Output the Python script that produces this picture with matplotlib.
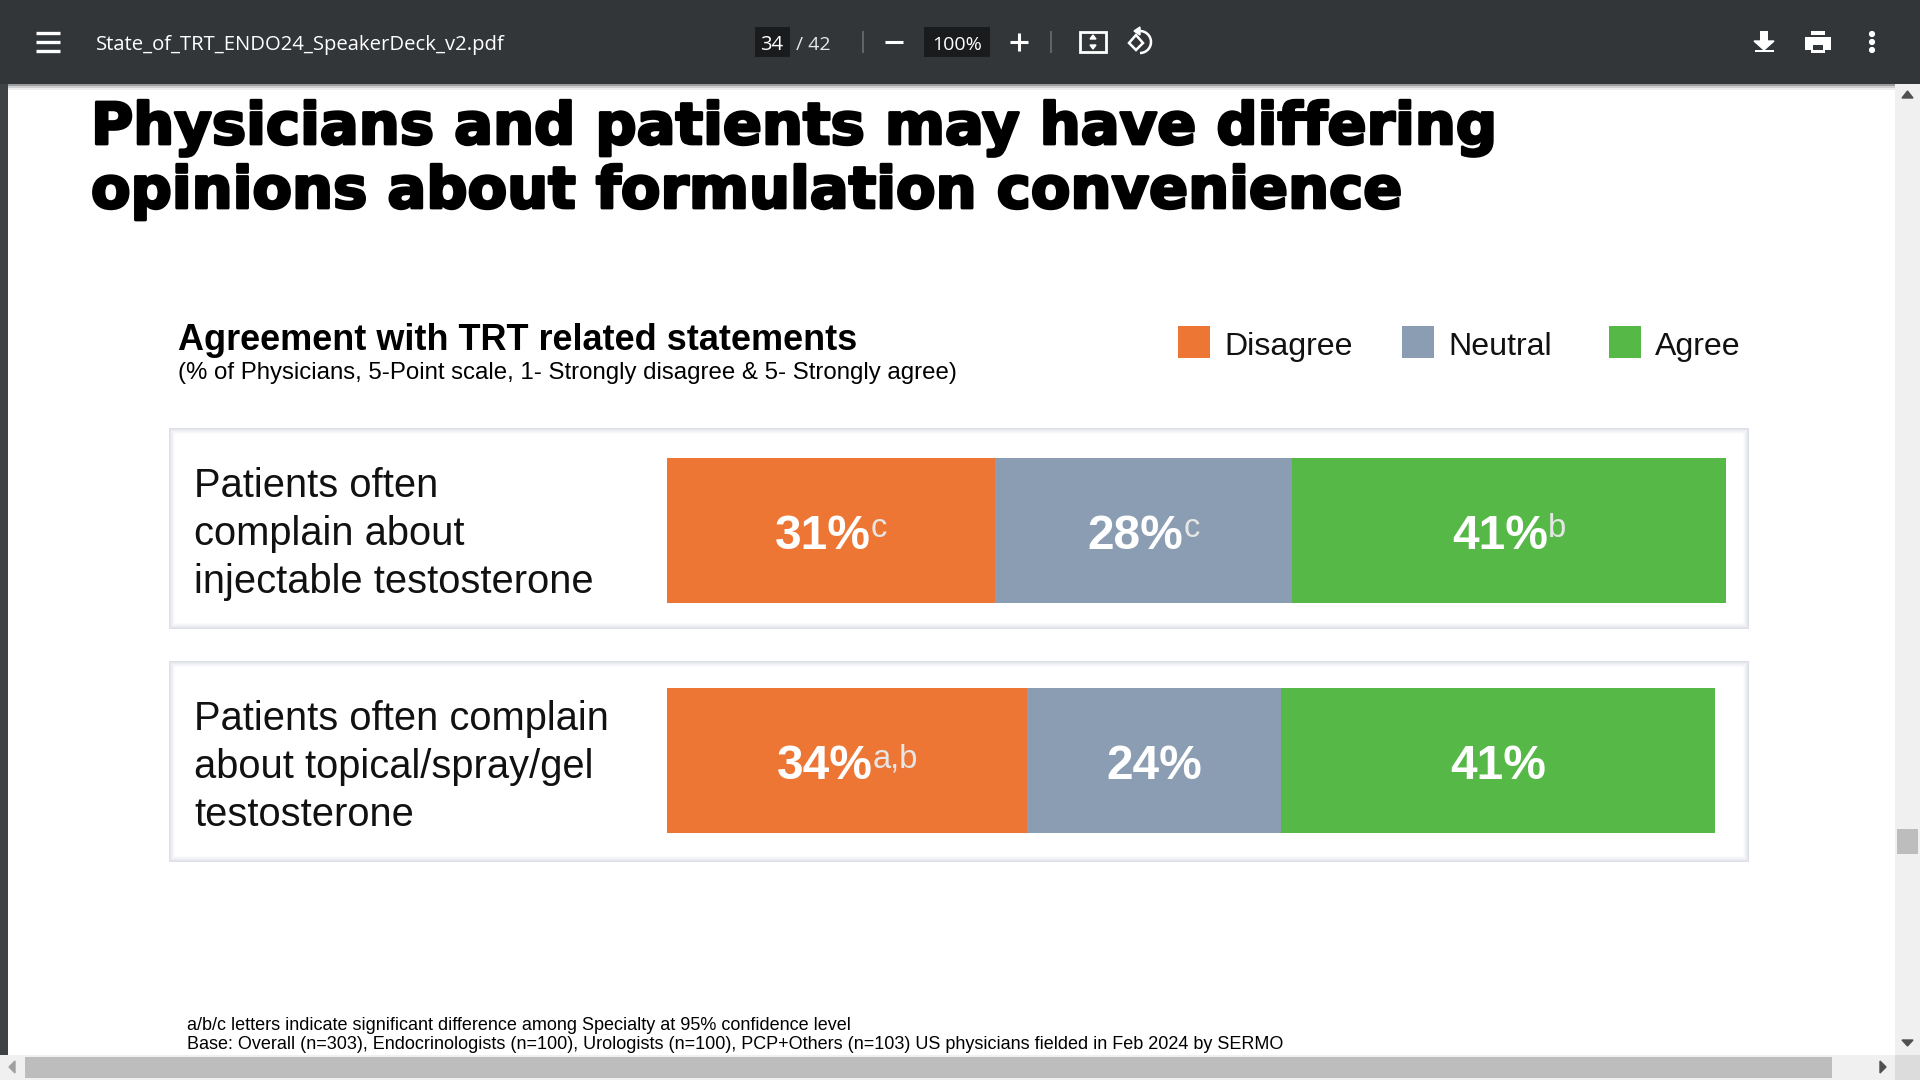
import matplotlib
matplotlib.use('Agg')
import matplotlib.pyplot as plt
import matplotlib.patheffects as pe
from matplotlib.patches import Rectangle, Polygon, Circle, Arc

plt.rcParams['font.family'] = ['Liberation Sans', 'DejaVu Sans']

QUESTIONS = ['Patients often\ncomplain about\ninjectable testosterone',
             'Patients often complain\nabout topical/spray/gel\ntestosterone']
SERIES = ['Disagree', 'Neutral', 'Agree']
DISAGREE = [31, 34]
NEUTRAL = [28, 24]
AGREE = [41, 41]
DISAGREE_SUP = ['c', 'a,b']
NEUTRAL_SUP = ['c', '']
AGREE_SUP = ['b', '']
COLORS = ['#ED7635', '#8B9DB3', '#56B947']

TITLE = ['Physicians and patients may have differing',
         'opinions about formulation convenience']
SUBTITLE = 'Agreement with TRT related statements'
SUBTITLE2 = '(% of Physicians, 5-Point scale, 1- Strongly disagree & 5- Strongly agree)'
FOOTNOTES = ['a/b/c letters indicate significant difference among Specialty at 95% confidence level',
             'Base: Overall (n=303), Endocrinologists (n=100), Urologists (n=100), PCP+Others (n=103) US physicians fielded in Feb 2024 by SERMO']
FILENAME = 'State_of_TRT_ENDO24_SpeakerDeck_v2.pdf'

W, H = 1920, 1080
fig = plt.figure(figsize=(19.2, 10.8), dpi=100, facecolor='white')

# pixel canvas for the viewer chrome and the slide text
bg = fig.add_axes([0, 0, 1, 1])
bg.set_xlim(0, W)
bg.set_ylim(H, 0)
bg.axis('off')


def box(x0, y0, x1, y1, color, z=1, **kw):
    bg.add_patch(Rectangle((x0, y0), x1 - x0, y1 - y0, facecolor=color, edgecolor='none', zorder=z, **kw))


def line(xs, ys, color='white', lw=2.0, z=5):
    bg.plot(xs, ys, color=color, lw=lw, solid_capstyle='butt', zorder=z)


# page edges and scrollbars
box(0, 84, 8, 1055, '#3f4245')
box(1895, 84, W, 1055, '#f0f0f0')
box(1897, 829, 1918, 854, '#bdbdbd', z=2)
box(0, 1055, 1895, H, '#f0f0f0')
box(25, 1057, 1832, 1078, '#bdbdbd', z=2)
box(1895, 1055, W, H, '#dcdcdc')
bg.add_patch(Polygon([[1902, 98], [1913, 98], [1907.5, 91]], color='#505050', zorder=3))
bg.add_patch(Polygon([[1902, 1040], [1913, 1040], [1907.5, 1046]], color='#505050', zorder=3))
bg.add_patch(Polygon([[15, 1061], [15, 1073], [9, 1067]], color='#a0a0a0', zorder=3))
bg.add_patch(Polygon([[1880, 1061], [1880, 1073], [1886, 1067]], color='#505050', zorder=3))

# toolbar
box(0, 0, W, 84, '#323639', z=4)
for i, c in enumerate(['#9a9c9e', '#cfcfcf', '#eeeeee']):
    box(8, 84 + i * 2, 1895, 86 + i * 2, c, z=3)
for y in [33, 42, 51]:
    line([36, 60], [y, y], lw=2.4)
bg.text(96, 45, FILENAME, color='white', fontsize=14.6, family='Open Sans', va='center', zorder=6)
box(755, 27, 790, 57, '#191b1c', z=5)
bg.text(772, 45, '34', color='white', fontsize=14.5, family='Open Sans', ha='center', va='center', zorder=6)
bg.text(796, 45, '/ 42', color='#e8e8e8', fontsize=14, family='Open Sans', va='center', zorder=6)
line([863, 863], [31, 53], color='#6b6e70', lw=1.2)
line([885, 903], [42, 42], lw=2.2)
box(924, 27, 990, 57, '#191b1c', z=5)
bg.text(957, 45, '100%', color='white', fontsize=14, family='Open Sans', ha='center', va='center', zorder=6)
line([1010, 1028], [42, 42], lw=2.2)
line([1019, 1019], [33, 51], lw=2.2)
line([1051, 1051], [31, 53], color='#6b6e70', lw=1.2)
bg.add_patch(Rectangle((1080, 32), 26, 20, facecolor='none', edgecolor='white', lw=2.0, zorder=5))
bg.add_patch(Polygon([[1090, 39], [1096, 39], [1093, 35]], color='white', zorder=5))
bg.add_patch(Polygon([[1090, 45], [1096, 45], [1093, 49]], color='white', zorder=5))
bg.add_patch(Polygon([[1136, 35], [1143, 43], [1136, 50], [1129, 43]], facecolor='none', edgecolor='white', lw=1.8, zorder=5))
bg.add_patch(Arc((1140, 42), 22, 22, theta1=-110, theta2=90, color='white', lw=1.8, zorder=5))
bg.add_patch(Polygon([[1140, 27], [1140, 35], [1134, 31]], color='white', zorder=5))
bg.add_patch(Polygon([[1754, 41], [1774, 41], [1764, 50]], color='white', zorder=5))
box(1760, 31, 1768, 42, 'white', z=5)
box(1755, 50, 1774, 52, 'white', z=5)
box(1805, 37, 1831, 50, 'white', z=5)
box(1811, 31, 1825, 35, 'white', z=5)
box(1811, 45, 1825, 53, 'white', z=6)
box(1813, 45, 1823, 50, '#323639', z=7)
for y in [34, 42, 50]:
    bg.add_patch(Circle((1872, y), 2.4, color='white', zorder=5))

# slide title, wide heavy face
for txt, y in zip(TITLE, [144, 208]):
    bg.text(91, y, txt, fontsize=41.5, weight='bold', family='DejaVu Sans', color='black', va='baseline', zorder=2,
            path_effects=[pe.withStroke(linewidth=2.0, foreground='black')])

bg.text(178, 340, SUBTITLE, fontsize=25.95, weight='bold', color='black', va='center')
bg.text(178, 373, SUBTITLE2, fontsize=17.25, color='black', va='center')

# legend
for name, c, x in zip(SERIES, COLORS, [1178, 1402, 1609]):
    box(x, 326, x + 32, 358, c)
    bg.text(x + 46, 347, name, fontsize=23.1, color='#111111', va='center')

# panels behind the rows, soft edge built from nested rectangles
EDGE = ['#dcdfe6', '#e4e6eb', '#ebedf0', '#f1f2f5', '#f6f7f9', '#fafbfc', '#ffffff']
for y0, y1 in [(428, 629), (661, 862)]:
    for k, c in enumerate(EDGE):
        box(169 + k, y0 + k, 1749 - k, y1 - k, c, z=1)

for q, y in zip(QUESTIONS, [534, 767]):
    bg.text(194, y, q, fontsize=28.75, color='#111111', va='center', linespacing=1.325, zorder=3)

for i, txt in enumerate(FOOTNOTES):
    bg.text(187, 1026 + i * 18.5, txt, fontsize=12.93, color='black', va='center')

# stacked bars
BAR_H = 145 / 230
ax = fig.add_axes([667 / W, 1 - 833 / H, 1059 / W, (833 - 458) / H])
ax.patch.set_alpha(0)
ax.set_xlim(0, 100)
ax.set_ylim(1.0 + BAR_H / 2, -BAR_H / 2)
ax.axis('off')

ypos = range(len(QUESTIONS))
left = [0 for _ in ypos]
values = [DISAGREE, NEUTRAL, AGREE]
sups = [DISAGREE_SUP, NEUTRAL_SUP, AGREE_SUP]
fig.canvas.draw()
rend = fig.canvas.get_renderer()
for vals, sup, c in zip(values, sups, COLORS):
    ax.barh(list(ypos), vals, left=left, height=BAR_H, color=c, edgecolor='none')
    for j, v in enumerate(vals):
        cx = left[j] + v / 2
        main = ax.text(cx, j, str(v) + '%', color='white', fontsize=34.5, weight='bold', ha='left', va='center')
        st = ax.text(cx, j, sup[j], color='#e6e6e6', fontsize=23.5, ha='left', va='center')
        mw = main.get_window_extent(rend).width
        sw = st.get_window_extent(rend).width if sup[j] else 0
        px = ax.transData.transform((cx, j))
        main.set_position(ax.transData.inverted().transform((px[0] - (mw + sw) / 2, px[1] - 6)))
        st.set_position(ax.transData.inverted().transform((px[0] - (mw + sw) / 2 + mw, px[1] + 2)))
    left = [a + b for a, b in zip(left, vals)]

fig.savefig('out.png', dpi=100)
